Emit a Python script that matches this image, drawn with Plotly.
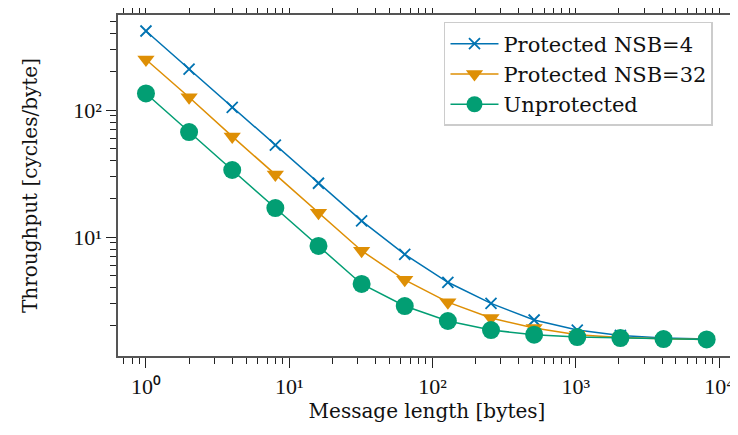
import numpy as np
import plotly.graph_objects as go

msg_len = [1, 2, 4, 8, 16, 32, 64, 128, 256, 512, 1024, 2048, 4096, 8192]
nsb4 = [419, 210, 105, 53, 26.5, 13.4, 7.3, 4.4, 3.0, 2.22, 1.85, 1.68, 1.6, 1.57]
nsb32 = [250, 126, 62, 31, 15.5, 7.8, 4.6, 3.07, 2.3, 1.92, 1.7, 1.62, 1.58, 1.56]
unprot = [135, 67, 33.7, 16.9, 8.5, 4.27, 2.86, 2.18, 1.85, 1.7, 1.63, 1.6, 1.57, 1.56]

names = ["Protected NSB=4", "Protected NSB=32", "Unprotected"]
colors = ["#0173B2", "#DE8F05", "#029E73"]

x_major = [1, 10, 100, 1000, 10000]
x_labels = ["10⁰", "10¹", "10²", "10³", "10⁴"]
y_major = [10, 100]
y_labels = ["10¹", "10²"]

x_minor = [m * 10 ** e for e in range(-1, 5) for m in range(2, 10)]
y_minor = [m * 10 ** e for e in range(0, 3) for m in range(2, 10)]

font = "DejaVu Serif"
tick_font = "Liberation Serif"

fig = go.Figure()
fig.add_trace(go.Scatter(x=msg_len, y=nsb4, name=names[0], mode="lines+markers",
                         line=dict(color=colors[0], width=1.5),
                         marker=dict(symbol="x-thin", size=11, line=dict(color=colors[0], width=1.8))))
fig.add_trace(go.Scatter(x=msg_len, y=nsb32, name=names[1], mode="lines+markers",
                         line=dict(color=colors[1], width=1.5),
                         marker=dict(symbol="triangle-down", size=15, color=colors[1])))
fig.add_trace(go.Scatter(x=msg_len, y=unprot, name=names[2], mode="lines+markers",
                         line=dict(color=colors[2], width=1.5),
                         marker=dict(symbol="circle", size=18, color=colors[2])))

axis_common = dict(
    showgrid=False, zeroline=False, showline=True, linecolor="#555555", linewidth=1.5,
    mirror="ticks", ticks="outside", ticklen=10, tickwidth=1.2, tickcolor="#222222",
    tickfont=dict(family=tick_font, size=22, color="#111111"), automargin=False,
)

fig.update_layout(
    width=730, height=427,
    margin=dict(l=110, r=2, t=7, b=79),
    paper_bgcolor="white", plot_bgcolor="white",
    font=dict(family=font, color="#111111"),
    xaxis=dict(type="log", range=[np.log10(0.638), np.log10(13130)],
               tickmode="array", tickvals=x_major, ticktext=x_labels,
               minor=dict(tickmode="array", tickvals=x_minor, ticks="outside", ticklen=6,
                          tickwidth=1.2, tickcolor="#222222"),
               title=dict(text="Message length [bytes]", font=dict(family=font, size=20), standoff=6),
               **axis_common),
    yaxis=dict(type="log", range=[np.log10(1.156), np.log10(560)],
               tickmode="array", tickvals=y_major, ticktext=y_labels,
               minor=dict(tickmode="array", tickvals=y_minor, ticks="outside", ticklen=6,
                          tickwidth=1.2, tickcolor="#222222"),
               title=dict(text="Throughput [cycles/byte]", font=dict(family=font, size=20), standoff=30),
               **axis_common),
    legend=dict(x=0.5275, y=0.9795, xanchor="left", yanchor="top",
                bgcolor="white", bordercolor="#cccccc", borderwidth=1.5,
                font=dict(family=font, size=21), tracegroupgap=0, itemwidth=48),
    showlegend=True,
)

fig.write_html("out.html")
